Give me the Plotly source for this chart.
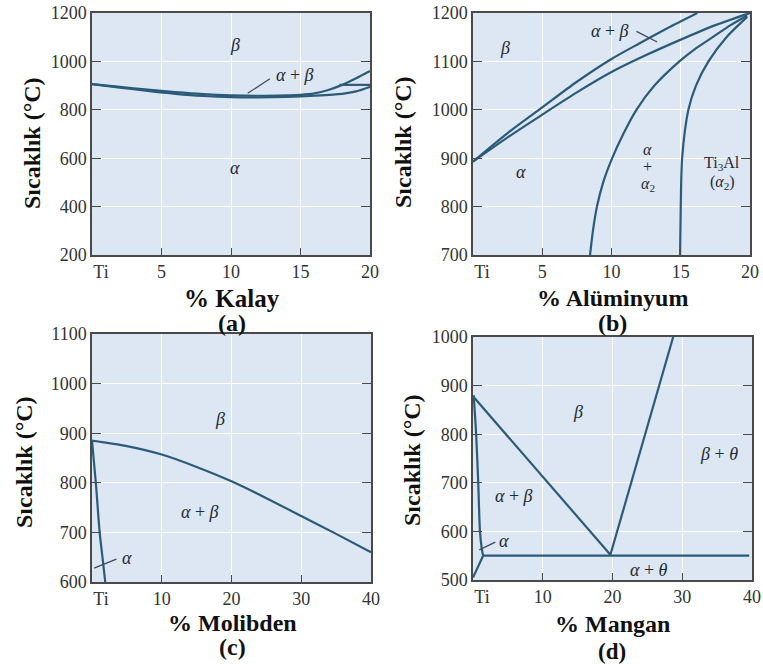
import plotly.graph_objects as go

W, H = 763, 664
LINE = "#2b5b79"
BG = "#dce7f3"
FRAME = "#4a4a4a"
SERIF = "Liberation Serif"

# ---------------- data ----------------
# (a) Ti - Sn
a_x_upper = [0, 2, 4, 6, 8, 10, 12, 14, 15, 16, 17, 18, 19, 20]
a_T_upper = [906, 895, 883, 873, 865, 860, 858, 860, 862, 868, 882, 903, 930, 960]
a_x_lower = [0, 2, 4, 6, 8, 10, 12, 14, 16, 18, 19, 20]
a_T_lower = [906, 892, 878, 866, 857, 852, 851, 853, 858, 866, 876, 895]
a_x_flat = [17.8, 20]
a_T_flat = [903, 903]
a_lead_x = [11.2, 12.8]
a_lead_T = [868, 928]

# (b) Ti - Al
b_x_beta = [0, 2.5, 5, 7.5, 10, 12, 14, 16.2]
b_T_beta = [893, 952, 1005, 1058, 1105, 1137, 1168, 1200]
b_x_alpha = [0, 2.5, 5, 7.5, 10, 12.5, 15, 17.5, 20]
b_T_alpha = [893, 943, 990, 1036, 1078, 1113, 1145, 1175, 1200]
b_x_a2 = [8.45, 8.66, 8.95, 9.4, 10.05, 10.85, 11.8, 13.1, 14.9, 16.0, 17.3, 18.6, 19.8]
b_T_a2 = [700, 750, 800, 850, 900, 950, 1000, 1050, 1100, 1125, 1150, 1175, 1195]
b_x_ti3al = [14.95, 15.0, 15.1, 15.55, 16.1, 17.0, 18.3, 19.8]
b_T_ti3al = [700, 800, 900, 1000, 1050, 1100, 1150, 1192]
b_lead_x = [11.8, 13.3]
b_lead_T = [1162, 1140]

# (c) Ti - Mo
c_x_beta = [0, 5, 10, 15, 20, 25, 30, 35, 40]
c_T_beta = [885, 874, 857, 832, 803, 769, 733, 697, 660]
c_x_alpha = [0, 0.55, 1.1, 1.5, 1.9]
c_T_alpha = [885, 800, 700, 650, 600]
c_lead_x = [0.3, 3.5]
c_lead_T = [628, 646]

# (d) Ti - Mn
d_x_beta = [0, 19.7]
d_T_beta = [878, 552]
d_x_theta = [19.7, 28.7]
d_T_theta = [552, 1000]
d_x_eut = [1.45, 39.6]
d_T_eut = [550, 550]
d_x_alpha = [0.1, 0.45, 0.75, 1.0, 1.25, 1.45]
d_T_alpha = [880, 800, 700, 600, 565, 550]
d_x_at = [1.45, 0]
d_T_at = [550, 505]
d_lead_x = [0.9, 3.2]
d_lead_T = [562, 578]

ticks_a_x = [0, 5, 10, 15, 20]
ticks_a_lbl = ["\u00a0\u00a0\u00a0\u00a0Ti", "5", "10", "15", "20"]
ticks_c_x = [0, 10, 20, 30, 40]
ticks_c_lbl = ["\u00a0\u00a0\u00a0\u00a0Ti", "10", "20", "30", "40"]

# ---------------- figure ----------------
fig = go.Figure()

def curve(x, y, ax, smooth=True, width=2.2, color=LINE):
    fig.add_trace(go.Scatter(
        x=x, y=y, mode="lines", xaxis="x" + ax, yaxis="y" + ax,
        line=dict(color=color, width=width, shape="spline" if smooth else "linear",
                  smoothing=0.8),
        hoverinfo="skip", showlegend=False, cliponaxis=True))

# (a)
curve(a_x_upper, a_T_upper, "")
curve(a_x_lower, a_T_lower, "")
curve(a_x_flat, a_T_flat, "", smooth=False)
curve(a_lead_x, a_lead_T, "", smooth=False, width=1.2, color="#3a4a5a")
# (b)
curve(b_x_beta, b_T_beta, "2")
curve(b_x_alpha, b_T_alpha, "2")
curve(b_x_a2, b_T_a2, "2")
curve(b_x_ti3al, b_T_ti3al, "2")
curve(b_lead_x, b_lead_T, "2", smooth=False, width=1.2, color="#3a4a5a")
# (c)
curve(c_x_beta, c_T_beta, "3")
curve(c_x_alpha, c_T_alpha, "3")
curve(c_lead_x, c_lead_T, "3", smooth=False, width=1.2, color="#3a4a5a")
# (d)
curve(d_x_beta, d_T_beta, "4", smooth=False)
curve(d_x_theta, d_T_theta, "4", smooth=False)
curve(d_x_eut, d_T_eut, "4", smooth=False)
curve(d_x_alpha, d_T_alpha, "4")
curve(d_x_at, d_T_at, "4", smooth=False)
curve(d_lead_x, d_lead_T, "4", smooth=False, width=1.2, color="#3a4a5a")

def px_x(p):
    return p / W

def px_y(p):
    return 1 - p / H

doms = {
    "": ([92, 370], [13, 255]),
    "2": ([473, 750], [13, 255]),
    "3": ([92, 371], [334, 582]),
    "4": ([473, 752], [337, 580]),
}
xr = {"": [0, 20], "2": [0, 20], "3": [0, 40], "4": [0, 40]}
yr = {"": [200, 1200], "2": [700, 1200], "3": [600, 1100], "4": [500, 1000]}
yd = {"": 200, "2": 100, "3": 100, "4": 100}

tickfont = dict(family=SERIF, size=18, color="#333333")
layout = {}
for k, (dx, dy) in doms.items():
    xv = ticks_a_x if k in ("", "2") else ticks_c_x
    xl = ticks_a_lbl if k in ("", "2") else ticks_c_lbl
    layout["xaxis" + k] = dict(
        domain=[px_x(dx[0]), px_x(dx[1])], anchor="y" + k, range=xr[k],
        tickvals=xv, ticktext=xl, ticks="inside", ticklen=7, tickwidth=1,
        tickcolor=FRAME, showline=True, linecolor=FRAME, linewidth=1.5, mirror=True,
        showgrid=True, gridcolor="white", gridwidth=1, zeroline=False,
        tickfont=tickfont, fixedrange=True, automargin=False)
    layout["yaxis" + k] = dict(
        domain=[px_y(dy[1]), px_y(dy[0])], anchor="x" + k, range=yr[k], dtick=yd[k],
        ticks="inside", ticklen=9, tickwidth=1, tickcolor=FRAME,
        showline=True, linecolor=FRAME, linewidth=1.5, mirror="ticks",
        showgrid=True, gridcolor="white", gridwidth=1, zeroline=False,
        tickfont=tickfont, fixedrange=True, automargin=False)

ann = []

def lab(text, x, y, ax, size=18):
    ann.append(dict(text=text, x=x, y=y, xref="x" + ax, yref="y" + ax,
                    showarrow=False, font=dict(family=SERIF, size=size, color="#1e2a36")))

A = "<i>α</i>"
B = "<i>β</i>"
lab(B, 10.3, 1068, "")
lab(A + " + " + B, 14.6, 945, "")
lab(A, 10.3, 560, "")

lab(B, 2.3, 1128, "2")
lab(A + " + " + B, 9.9, 1163, "2")
lab(A, 3.5, 871, "2")
lab(A, 12.6, 917, "2", 16)
lab("+", 12.6, 882, "2", 16)
lab(A + "<sub>2</sub>", 12.6, 846, "2", 16)
lab("Ti<sub>3</sub>Al", 18.0, 890, "2", 16)
lab("(" + A + "<sub>2</sub>)", 18.0, 849, "2", 16)

lab(B, 18.4, 928, "3")
lab(A + " + " + B, 15.5, 741, "3")
lab(A, 5.0, 648, "3")

lab(B, 15.0, 845, "4")
lab(B + " + <i>θ</i>", 35.3, 759, "4")
lab(A + " + " + B, 5.9, 672, "4")
lab(A, 4.4, 581, "4")
lab(A + " + <i>θ</i>", 25.2, 521, "4")

def ptxt(text, xp, yp, size, angle=0):
    ann.append(dict(text="<b>" + text + "</b>", x=px_x(xp), y=px_y(yp), xref="paper",
                    yref="paper", showarrow=False, textangle=angle,
                    xanchor="center", yanchor="middle",
                    font=dict(family=SERIF, size=size, color="#111111")))

ytitle = "Sıcaklık (°C)"
ptxt(ytitle, 32, 143, 24, -90)
ptxt(ytitle, 403, 142, 24, -90)
ptxt(ytitle, 24, 462, 24, -90)
ptxt(ytitle, 412, 460, 24, -90)

ptxt("% Kalay", 232, 298, 25)
ptxt("(a)", 232, 323, 24)
ptxt("% Alüminyum", 612, 298, 24)
ptxt("(b)", 612, 323, 24)
ptxt("% Molibden", 232, 623, 24)
ptxt("(c)", 232, 647, 24)
ptxt("% Mangan", 612, 624, 24)
ptxt("(d)", 612, 651, 23)

fig.update_layout(
    width=W, height=H, margin=dict(l=0, r=0, t=0, b=0, pad=0, autoexpand=False),
    paper_bgcolor="white", plot_bgcolor=BG, showlegend=False,
    annotations=ann, **layout)

fig.write_html("out.html", config={"displayModeBar": False},
               post_script="document.body.style.margin='0';")
